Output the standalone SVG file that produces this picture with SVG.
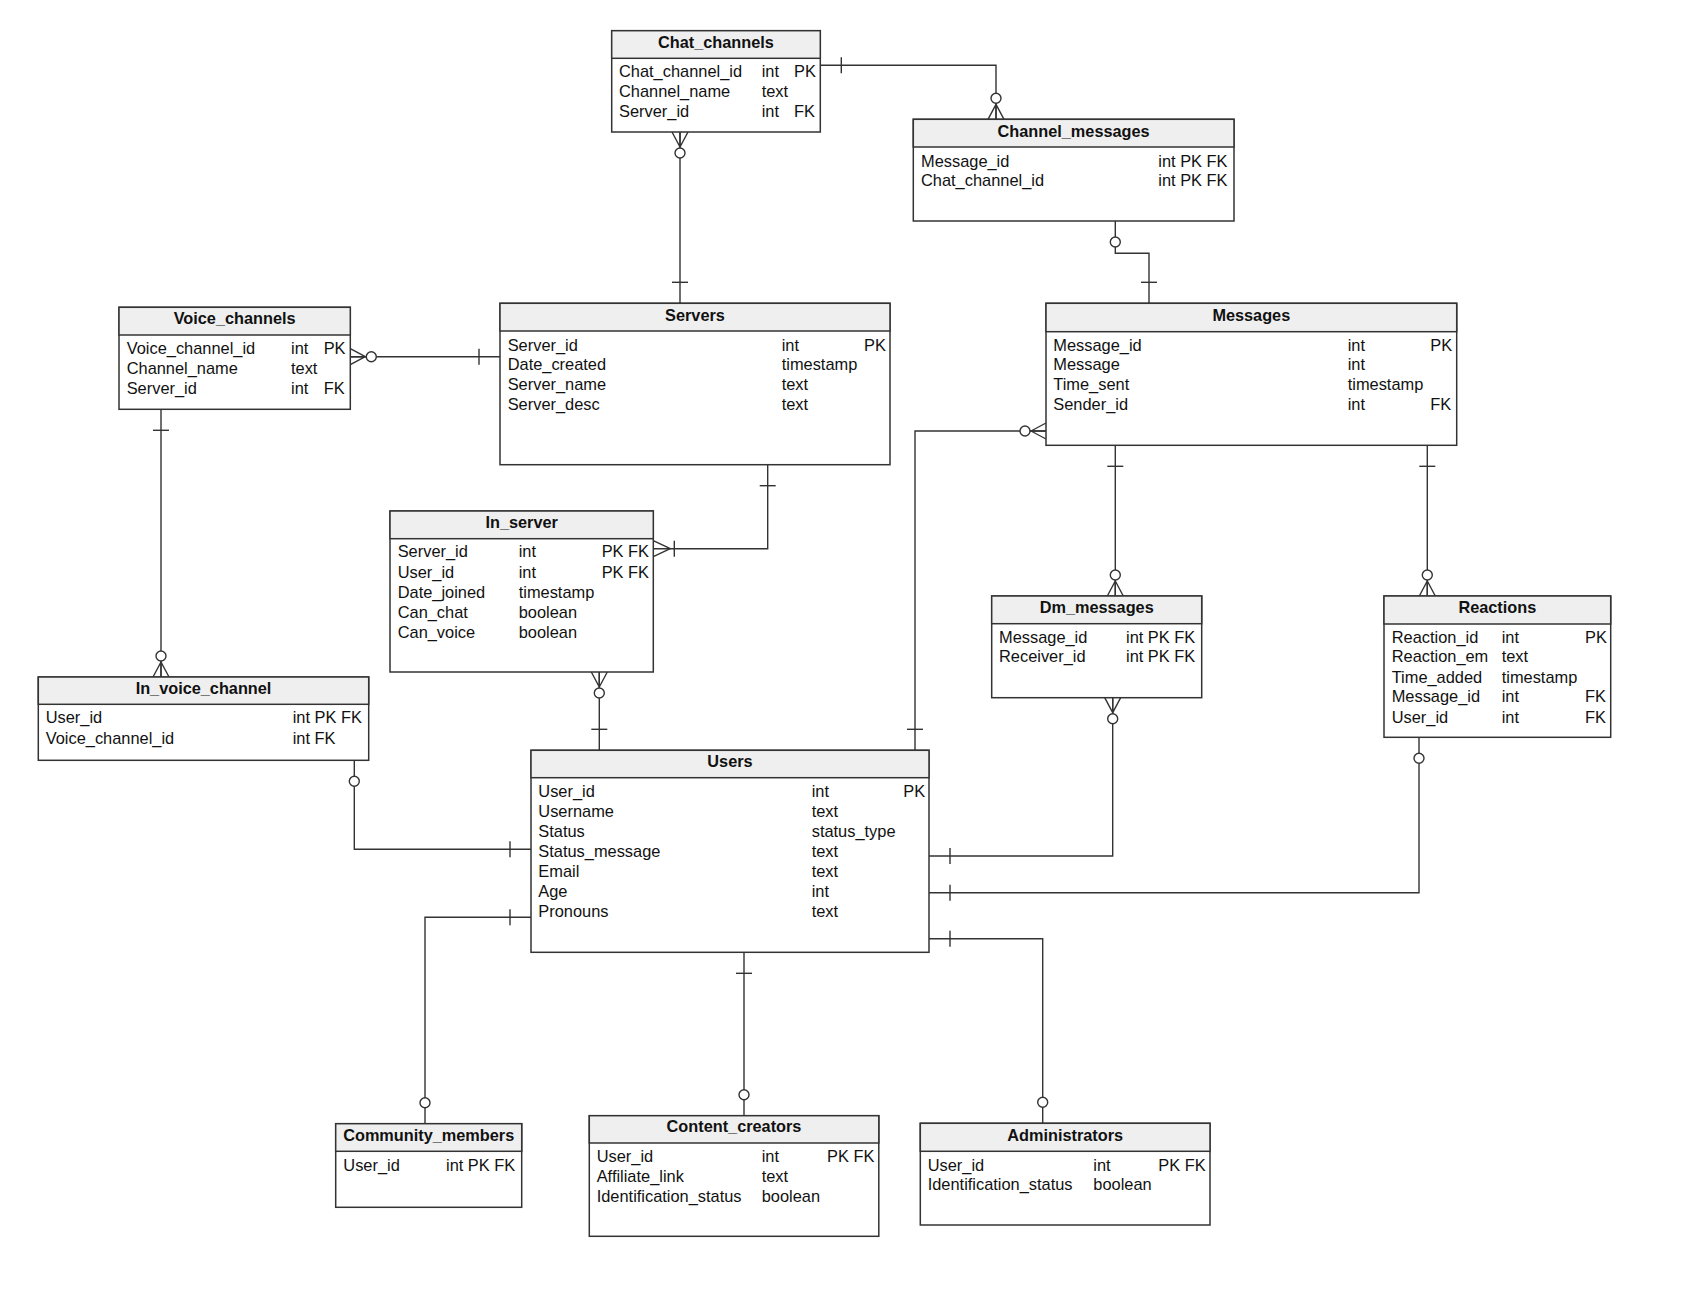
<svg xmlns="http://www.w3.org/2000/svg" xmlns:xlink="http://www.w3.org/1999/xlink" width="1682" height="1294" viewBox="0 0 1682 1294">
<style>
.bg{fill:#ffffff}
.box{fill:#ffffff;stroke:#333333;stroke-width:1.5}
.hdr{fill:#efefef;stroke:#333333;stroke-width:1.5}
.t{font-family:"Liberation Sans",Arial,Helvetica,sans-serif;font-size:16.4px;fill:#111111}
.ti{font-family:"Liberation Sans",Arial,Helvetica,sans-serif;font-size:16.3px;font-weight:bold;fill:#111111;text-anchor:middle}
.ln{fill:none;stroke:#333333;stroke-width:1.4}
.sym{fill:none;stroke:#333333;stroke-width:1.4}
.circ{fill:#ffffff;stroke:#333333;stroke-width:1.4}
</style>
<defs>
<!-- symbols: box edge at origin, connector leaves along +x -->
<g id="one"><line class="sym" x1="21" y1="-8" x2="21" y2="8"/></g>
<g id="zeroOne"><circle class="circ" cx="21" cy="0" r="5"/></g>
<g id="zeroMany"><path class="sym" d="M0,-8 L15,0 M0,8 L15,0 M0,0 L16,0"/><circle class="circ" cx="21" cy="0" r="5"/></g>
<g id="oneMany"><path class="sym" d="M0,-8 L17,0 M0,8 L17,0"/><line class="sym" x1="21" y1="-8" x2="21" y2="8"/></g>
</defs>
<rect class="bg" x="0" y="0" width="1682" height="1294"/>

<g id="connectors">
  <!-- Chat_channels - Servers -->
  <path class="ln" d="M680,132 L680,303.3"/>
  <use xlink:href="#zeroMany" transform="translate(680,132) rotate(90)"/>
  <use xlink:href="#one" transform="translate(680,303.3) rotate(-90)"/>
  <!-- Chat_channels - Channel_messages -->
  <path class="ln" d="M820.3,65.3 L996,65.3 L996,119.3"/>
  <use xlink:href="#one" transform="translate(820.3,65.3)"/>
  <use xlink:href="#zeroMany" transform="translate(996,119.3) rotate(-90)"/>
  <!-- Channel_messages - Messages -->
  <path class="ln" d="M1115.3,221 L1115.3,253.3 L1149,253.3 L1149,303.3"/>
  <use xlink:href="#zeroOne" transform="translate(1115.3,221) rotate(90)"/>
  <use xlink:href="#one" transform="translate(1149,303.3) rotate(-90)"/>
  <!-- Voice_channels - Servers -->
  <path class="ln" d="M350.3,356.7 L500,356.7"/>
  <use xlink:href="#zeroMany" transform="translate(350.3,356.7)"/>
  <use xlink:href="#one" transform="translate(500,356.7) rotate(180)"/>
  <!-- Voice_channels - In_voice_channel -->
  <path class="ln" d="M161,409.3 L161,677"/>
  <use xlink:href="#one" transform="translate(161,409.3) rotate(90)"/>
  <use xlink:href="#zeroMany" transform="translate(161,677) rotate(-90)"/>
  <!-- Servers - In_server -->
  <path class="ln" d="M767.7,464.7 L767.7,548.7 L653.3,548.7"/>
  <use xlink:href="#one" transform="translate(767.7,464.7) rotate(90)"/>
  <use xlink:href="#oneMany" transform="translate(653.3,548.7)"/>
  <!-- In_server - Users -->
  <path class="ln" d="M599.3,672 L599.3,750.3"/>
  <use xlink:href="#zeroMany" transform="translate(599.3,672) rotate(90)"/>
  <use xlink:href="#one" transform="translate(599.3,750.3) rotate(-90)"/>
  <!-- Messages - Users (sender) -->
  <path class="ln" d="M1046,431 L915,431 L915,750.3"/>
  <use xlink:href="#zeroMany" transform="translate(1046,431) rotate(180)"/>
  <use xlink:href="#one" transform="translate(915,750.3) rotate(-90)"/>
  <!-- Messages - Dm_messages -->
  <path class="ln" d="M1115.3,445.3 L1115.3,596"/>
  <use xlink:href="#one" transform="translate(1115.3,445.3) rotate(90)"/>
  <use xlink:href="#zeroMany" transform="translate(1115.3,596) rotate(-90)"/>
  <!-- Messages - Reactions -->
  <path class="ln" d="M1427.3,445.3 L1427.3,596"/>
  <use xlink:href="#one" transform="translate(1427.3,445.3) rotate(90)"/>
  <use xlink:href="#zeroMany" transform="translate(1427.3,596) rotate(-90)"/>
  <!-- Dm_messages - Users -->
  <path class="ln" d="M1112.7,697.7 L1112.7,856 L929,856"/>
  <use xlink:href="#zeroMany" transform="translate(1112.7,697.7) rotate(90)"/>
  <use xlink:href="#one" transform="translate(929,856)"/>
  <!-- Reactions - Users -->
  <path class="ln" d="M1419,737.3 L1419,892.7 L929,892.7"/>
  <use xlink:href="#zeroOne" transform="translate(1419,737.3) rotate(90)"/>
  <use xlink:href="#one" transform="translate(929,892.7)"/>
  <!-- Users - Administrators -->
  <path class="ln" d="M929,938.7 L1042.7,938.7 L1042.7,1123.3"/>
  <use xlink:href="#one" transform="translate(929,938.7)"/>
  <use xlink:href="#zeroOne" transform="translate(1042.7,1123.3) rotate(-90)"/>
  <!-- Users - Content_creators -->
  <path class="ln" d="M744,952.3 L744,1115.7"/>
  <use xlink:href="#one" transform="translate(744,952.3) rotate(90)"/>
  <use xlink:href="#zeroOne" transform="translate(744,1115.7) rotate(-90)"/>
  <!-- Users - Community_members -->
  <path class="ln" d="M531,917.3 L425,917.3 L425,1123.7"/>
  <use xlink:href="#one" transform="translate(531,917.3) rotate(180)"/>
  <use xlink:href="#zeroOne" transform="translate(425,1123.7) rotate(-90)"/>
  <!-- Users - In_voice_channel -->
  <path class="ln" d="M531,849.3 L354.3,849.3 L354.3,760.3"/>
  <use xlink:href="#one" transform="translate(531,849.3) rotate(180)"/>
  <use xlink:href="#zeroOne" transform="translate(354.3,760.3) rotate(90)"/>
</g>

<g id="Chat_channels">
  <rect class="box" x="611.7" y="30.7" width="208.6" height="101.3"/>
  <rect class="hdr" x="611.7" y="30.7" width="208.6" height="27.6"/>
  <text class="ti" x="716" y="47.7">Chat_channels</text>
  <text class="t" x="619" y="77.3">Chat_channel_id</text><text class="t" x="761.7" y="77.3">int</text><text class="t" x="794" y="77.3">PK</text>
  <text class="t" x="619" y="97.2">Channel_name</text><text class="t" x="761.7" y="97.2">text</text>
  <text class="t" x="619" y="117.2">Server_id</text><text class="t" x="761.7" y="117.2">int</text><text class="t" x="794" y="117.2">FK</text>
</g>

<g id="Channel_messages">
  <rect class="box" x="913.3" y="119.3" width="320.7" height="101.7"/>
  <rect class="hdr" x="913.3" y="119.3" width="320.7" height="27.7"/>
  <text class="ti" x="1073.6" y="136.7">Channel_messages</text>
  <text class="t" x="921" y="166.5">Message_id</text><text class="t" x="1158.3" y="166.5">int PK FK</text>
  <text class="t" x="921" y="186.2">Chat_channel_id</text><text class="t" x="1158.3" y="186.2">int PK FK</text>
</g>

<g id="Voice_channels">
  <rect class="box" x="119" y="307.3" width="231.3" height="102"/>
  <rect class="hdr" x="119" y="307.3" width="231.3" height="27.7"/>
  <text class="ti" x="234.6" y="324.3">Voice_channels</text>
  <text class="t" x="126.7" y="354">Voice_channel_id</text><text class="t" x="291" y="354">int</text><text class="t" x="323.7" y="354">PK</text>
  <text class="t" x="126.7" y="373.8">Channel_name</text><text class="t" x="291" y="373.8">text</text>
  <text class="t" x="126.7" y="394">Server_id</text><text class="t" x="291" y="394">int</text><text class="t" x="323.7" y="394">FK</text>
</g>

<g id="Servers">
  <rect class="box" x="500" y="303.3" width="390" height="161.4"/>
  <rect class="hdr" x="500" y="303.3" width="390" height="27.7"/>
  <text class="ti" x="695" y="320.5">Servers</text>
  <text class="t" x="507.7" y="350.5">Server_id</text><text class="t" x="781.7" y="350.5">int</text><text class="t" x="864" y="350.5">PK</text>
  <text class="t" x="507.7" y="370.4">Date_created</text><text class="t" x="781.7" y="370.4">timestamp</text>
  <text class="t" x="507.7" y="390.4">Server_name</text><text class="t" x="781.7" y="390.4">text</text>
  <text class="t" x="507.7" y="410.2">Server_desc</text><text class="t" x="781.7" y="410.2">text</text>
</g>

<g id="Messages">
  <rect class="box" x="1046" y="303.3" width="410.7" height="142"/>
  <rect class="hdr" x="1046" y="303.3" width="410.7" height="28.4"/>
  <text class="ti" x="1251.3" y="320.5">Messages</text>
  <text class="t" x="1053.3" y="350.5">Message_id</text><text class="t" x="1347.7" y="350.5">int</text><text class="t" x="1430.3" y="350.5">PK</text>
  <text class="t" x="1053.3" y="370.4">Message</text><text class="t" x="1347.7" y="370.4">int</text>
  <text class="t" x="1053.3" y="390.4">Time_sent</text><text class="t" x="1347.7" y="390.4">timestamp</text>
  <text class="t" x="1053.3" y="410.2">Sender_id</text><text class="t" x="1347.7" y="410.2">int</text><text class="t" x="1430.3" y="410.2">FK</text>
</g>

<g id="In_server">
  <rect class="box" x="390" y="511" width="263.3" height="161"/>
  <rect class="hdr" x="390" y="511" width="263.3" height="27.7"/>
  <text class="ti" x="521.7" y="527.8">In_server</text>
  <text class="t" x="397.7" y="557.3">Server_id</text><text class="t" x="518.7" y="557.3">int</text><text class="t" x="601.7" y="557.3">PK FK</text>
  <text class="t" x="397.7" y="577.5">User_id</text><text class="t" x="518.7" y="577.5">int</text><text class="t" x="601.7" y="577.5">PK FK</text>
  <text class="t" x="397.7" y="597.6">Date_joined</text><text class="t" x="518.7" y="597.6">timestamp</text>
  <text class="t" x="397.7" y="617.8">Can_chat</text><text class="t" x="518.7" y="617.8">boolean</text>
  <text class="t" x="397.7" y="637.8">Can_voice</text><text class="t" x="518.7" y="637.8">boolean</text>
</g>

<g id="In_voice_channel">
  <rect class="box" x="38.3" y="677" width="330.4" height="83.3"/>
  <rect class="hdr" x="38.3" y="677" width="330.4" height="27.3"/>
  <text class="ti" x="203.5" y="693.5">In_voice_channel</text>
  <text class="t" x="45.7" y="723">User_id</text><text class="t" x="292.7" y="723">int PK FK</text>
  <text class="t" x="45.7" y="743.5">Voice_channel_id</text><text class="t" x="292.7" y="743.5">int FK</text>
</g>

<g id="Dm_messages">
  <rect class="box" x="991.7" y="596" width="210" height="101.7"/>
  <rect class="hdr" x="991.7" y="596" width="210" height="27.7"/>
  <text class="ti" x="1096.7" y="613">Dm_messages</text>
  <text class="t" x="999" y="642.7">Message_id</text><text class="t" x="1126" y="642.7">int PK FK</text>
  <text class="t" x="999" y="662.2">Receiver_id</text><text class="t" x="1126" y="662.2">int PK FK</text>
</g>

<g id="Reactions">
  <rect class="box" x="1384" y="596" width="226.7" height="141.3"/>
  <rect class="hdr" x="1384" y="596" width="226.7" height="28"/>
  <text class="ti" x="1497.3" y="613">Reactions</text>
  <text class="t" x="1391.7" y="642.7">Reaction_id</text><text class="t" x="1501.7" y="642.7">int</text><text class="t" x="1585" y="642.7">PK</text>
  <text class="t" x="1391.7" y="662.4">Reaction_em</text><text class="t" x="1501.7" y="662.4">text</text>
  <text class="t" x="1391.7" y="682.5">Time_added</text><text class="t" x="1501.7" y="682.5">timestamp</text>
  <text class="t" x="1391.7" y="702.4">Message_id</text><text class="t" x="1501.7" y="702.4">int</text><text class="t" x="1585" y="702.4">FK</text>
  <text class="t" x="1391.7" y="722.5">User_id</text><text class="t" x="1501.7" y="722.5">int</text><text class="t" x="1585" y="722.5">FK</text>
</g>

<g id="Users">
  <rect class="box" x="531" y="750.3" width="398" height="202"/>
  <rect class="hdr" x="531" y="750.3" width="398" height="27.4"/>
  <text class="ti" x="730" y="767.3">Users</text>
  <text class="t" x="538.3" y="796.6">User_id</text><text class="t" x="811.7" y="796.6">int</text><text class="t" x="903.3" y="796.6">PK</text>
  <text class="t" x="538.3" y="816.7">Username</text><text class="t" x="811.7" y="816.7">text</text>
  <text class="t" x="538.3" y="836.8">Status</text><text class="t" x="811.7" y="836.8">status_type</text>
  <text class="t" x="538.3" y="856.9">Status_message</text><text class="t" x="811.7" y="856.9">text</text>
  <text class="t" x="538.3" y="877">Email</text><text class="t" x="811.7" y="877">text</text>
  <text class="t" x="538.3" y="897.1">Age</text><text class="t" x="811.7" y="897.1">int</text>
  <text class="t" x="538.3" y="917.2">Pronouns</text><text class="t" x="811.7" y="917.2">text</text>
</g>

<g id="Community_members">
  <rect class="box" x="335.7" y="1123.7" width="186" height="83.6"/>
  <rect class="hdr" x="335.7" y="1123.7" width="186" height="27.6"/>
  <text class="ti" x="428.7" y="1140.8">Community_members</text>
  <text class="t" x="343.3" y="1170.7">User_id</text><text class="t" x="446" y="1170.7">int PK FK</text>
</g>

<g id="Content_creators">
  <rect class="box" x="589.3" y="1115.7" width="289.5" height="120.6"/>
  <rect class="hdr" x="589.3" y="1115.7" width="289.5" height="27.3"/>
  <text class="ti" x="734" y="1132.3">Content_creators</text>
  <text class="t" x="596.7" y="1161.8">User_id</text><text class="t" x="761.7" y="1161.8">int</text><text class="t" x="827" y="1161.8">PK FK</text>
  <text class="t" x="596.7" y="1182">Affiliate_link</text><text class="t" x="761.7" y="1182">text</text>
  <text class="t" x="596.7" y="1201.8">Identification_status</text><text class="t" x="761.7" y="1201.8">boolean</text>
</g>

<g id="Administrators">
  <rect class="box" x="920.3" y="1123.3" width="289.7" height="101.7"/>
  <rect class="hdr" x="920.3" y="1123.3" width="289.7" height="28"/>
  <text class="ti" x="1065.2" y="1140.8">Administrators</text>
  <text class="t" x="927.7" y="1170.7">User_id</text><text class="t" x="1093.3" y="1170.7">int</text><text class="t" x="1158.3" y="1170.7">PK FK</text>
  <text class="t" x="927.7" y="1190.2">Identification_status</text><text class="t" x="1093.3" y="1190.2">boolean</text>
</g>
</svg>
